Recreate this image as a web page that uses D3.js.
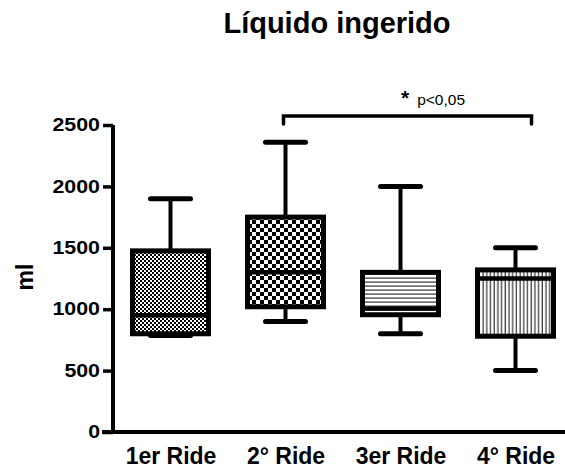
<!DOCTYPE html>
<html>
<head>
<meta charset="utf-8">
<script src="https://cdn.jsdelivr.net/npm/d3@7"></script>
<style>
  body { margin: 0; background: #fff; }
  svg { display: block; font-family: Arial, "Liberation Sans", sans-serif; }
</style>
</head>
<body>
<div id="chart"></div>
<script>
// data
var rides = ['1er Ride', '2° Ride', '3er Ride', '4° Ride'];
var minVals = [785, 900, 800, 500];
var q1Vals = [800, 1020, 955, 780];
var medVals = [950, 1300, 1005, 1250];
var q3Vals = [1475, 1750, 1300, 1320];
var maxVals = [1900, 2360, 2000, 1500];
var patterns = ['checkFine', 'checkBig', 'hLines', 'vLines'];
var yTicks = [0, 500, 1000, 1500, 2000, 2500];

var width = 565, height = 469;
var boxW = 76, capW = 40;

var svg = d3.select('#chart').append('svg')
    .attr('width', width).attr('height', height);

var x = d3.scalePoint().domain(rides).range([113, 573]).padding(0.5);
var y = d3.scaleLinear().domain([0, 2500]).range([432, 125]);

// fill patterns
var defs = svg.append('defs');
function makeChecker(id, s) {
    var p = defs.append('pattern').attr('id', id).attr('patternUnits', 'userSpaceOnUse')
        .attr('width', s * 2).attr('height', s * 2);
    p.append('rect').attr('width', s * 2).attr('height', s * 2).attr('fill', '#fff');
    p.append('rect').attr('width', s).attr('height', s).attr('fill', '#000');
    p.append('rect').attr('x', s).attr('y', s).attr('width', s).attr('height', s).attr('fill', '#000');
}
makeChecker('checkFine', 2);
makeChecker('checkBig', 4);
var ph = defs.append('pattern').attr('id', 'hLines').attr('patternUnits', 'userSpaceOnUse')
    .attr('width', 4).attr('height', 4);
ph.append('rect').attr('width', 4).attr('height', 4).attr('fill', '#fff');
ph.append('rect').attr('y', 1.5).attr('width', 4).attr('height', 1.2).attr('fill', '#333');
var pv = defs.append('pattern').attr('id', 'vLines').attr('patternUnits', 'userSpaceOnUse')
    .attr('width', 3.7).attr('height', 4);
pv.append('rect').attr('width', 3.7).attr('height', 4).attr('fill', '#fff');
pv.append('rect').attr('x', 1.5).attr('width', 1.2).attr('height', 4).attr('fill', '#333');

// title
svg.append('text')
    .attr('x', 337).attr('y', 33)
    .attr('text-anchor', 'middle')
    .attr('font-size', 29).attr('font-weight', 'bold')
    .text('Líquido ingerido');

// y axis
var yAxis = svg.append('g')
    .attr('transform', 'translate(113,0)')
    .call(d3.axisLeft(y).tickValues(yTicks).tickFormat(d3.format('d')).tickSize(10).tickPadding(3));
yAxis.select('.domain').attr('stroke-width', 4).attr('d', 'M0,' + y(2500) + 'V' + (y(0) + 2));
yAxis.selectAll('.tick line').attr('stroke-width', 3.5);
yAxis.selectAll('.tick text')
    .attr('font-size', 17.5).attr('font-weight', 'bold').attr('font-family', null)
    .attr('fill', '#000')
    .each(function () {
        var w = this.getComputedTextLength();
        d3.select(this).attr('textLength', w * 1.22).attr('lengthAdjust', 'spacingAndGlyphs');
    });

svg.append('text')
    .attr('transform', 'translate(33,277) rotate(-90)')
    .attr('text-anchor', 'middle')
    .attr('font-size', 23).attr('font-weight', 'bold')
    .text('ml');

// x axis
var xAxis = svg.append('g')
    .attr('transform', 'translate(0,432)')
    .call(d3.axisBottom(x).tickSize(0).tickPadding(16));
xAxis.select('.domain').attr('stroke-width', 4).attr('d', 'M102,0H573');
xAxis.selectAll('.tick text')
    .attr('font-size', 23).attr('font-weight', 'bold').attr('font-family', null)
    .attr('fill', '#000');

// boxes
var idx = d3.range(rides.length);
var g = svg.append('g').selectAll('g').data(idx).enter().append('g');

g.append('line')
    .attr('x1', function (i) { return x(rides[i]); })
    .attr('x2', function (i) { return x(rides[i]); })
    .attr('y1', function (i) { return y(maxVals[i]); })
    .attr('y2', function (i) { return y(minVals[i]); })
    .attr('stroke', '#000').attr('stroke-width', 4);

[maxVals, minVals].forEach(function (arr) {
    g.append('line')
        .attr('x1', function (i) { return x(rides[i]) - capW / 2; })
        .attr('x2', function (i) { return x(rides[i]) + capW / 2; })
        .attr('y1', function (i) { return y(arr[i]); })
        .attr('y2', function (i) { return y(arr[i]); })
        .attr('stroke', '#000').attr('stroke-width', 5).attr('stroke-linecap', 'round');
});

g.append('rect')
    .attr('x', function (i) { return x(rides[i]) - boxW / 2; })
    .attr('y', function (i) { return y(q3Vals[i]); })
    .attr('width', boxW)
    .attr('height', function (i) { return y(q1Vals[i]) - y(q3Vals[i]); })
    .attr('fill', function (i) { return 'url(#' + patterns[i] + ')'; })
    .attr('stroke', '#000').attr('stroke-width', 5);

g.append('line')
    .attr('x1', function (i) { return x(rides[i]) - boxW / 2; })
    .attr('x2', function (i) { return x(rides[i]) + boxW / 2; })
    .attr('y1', function (i) { return y(medVals[i]); })
    .attr('y2', function (i) { return y(medVals[i]); })
    .attr('stroke', '#000').attr('stroke-width', 4.5);

// significance bracket between 2° and 4° ride
var bx1 = x(rides[1]) - 2, bx2 = x(rides[3]) + 16, by = 116;
svg.append('path')
    .attr('d', 'M' + bx1 + ',' + (by + 8) + 'V' + by + 'H' + bx2 + 'V' + (by + 8))
    .attr('fill', 'none').attr('stroke', '#000').attr('stroke-width', 3.5)
    .attr('stroke-linecap', 'round');

var note = svg.append('text').attr('x', 401).attr('y', 105);
note.append('tspan').attr('font-size', 21).attr('font-weight', 'bold').text('*');
note.append('tspan').attr('dx', 8).attr('font-size', 15.5).text('p<0,05');
</script>
</body>
</html>
